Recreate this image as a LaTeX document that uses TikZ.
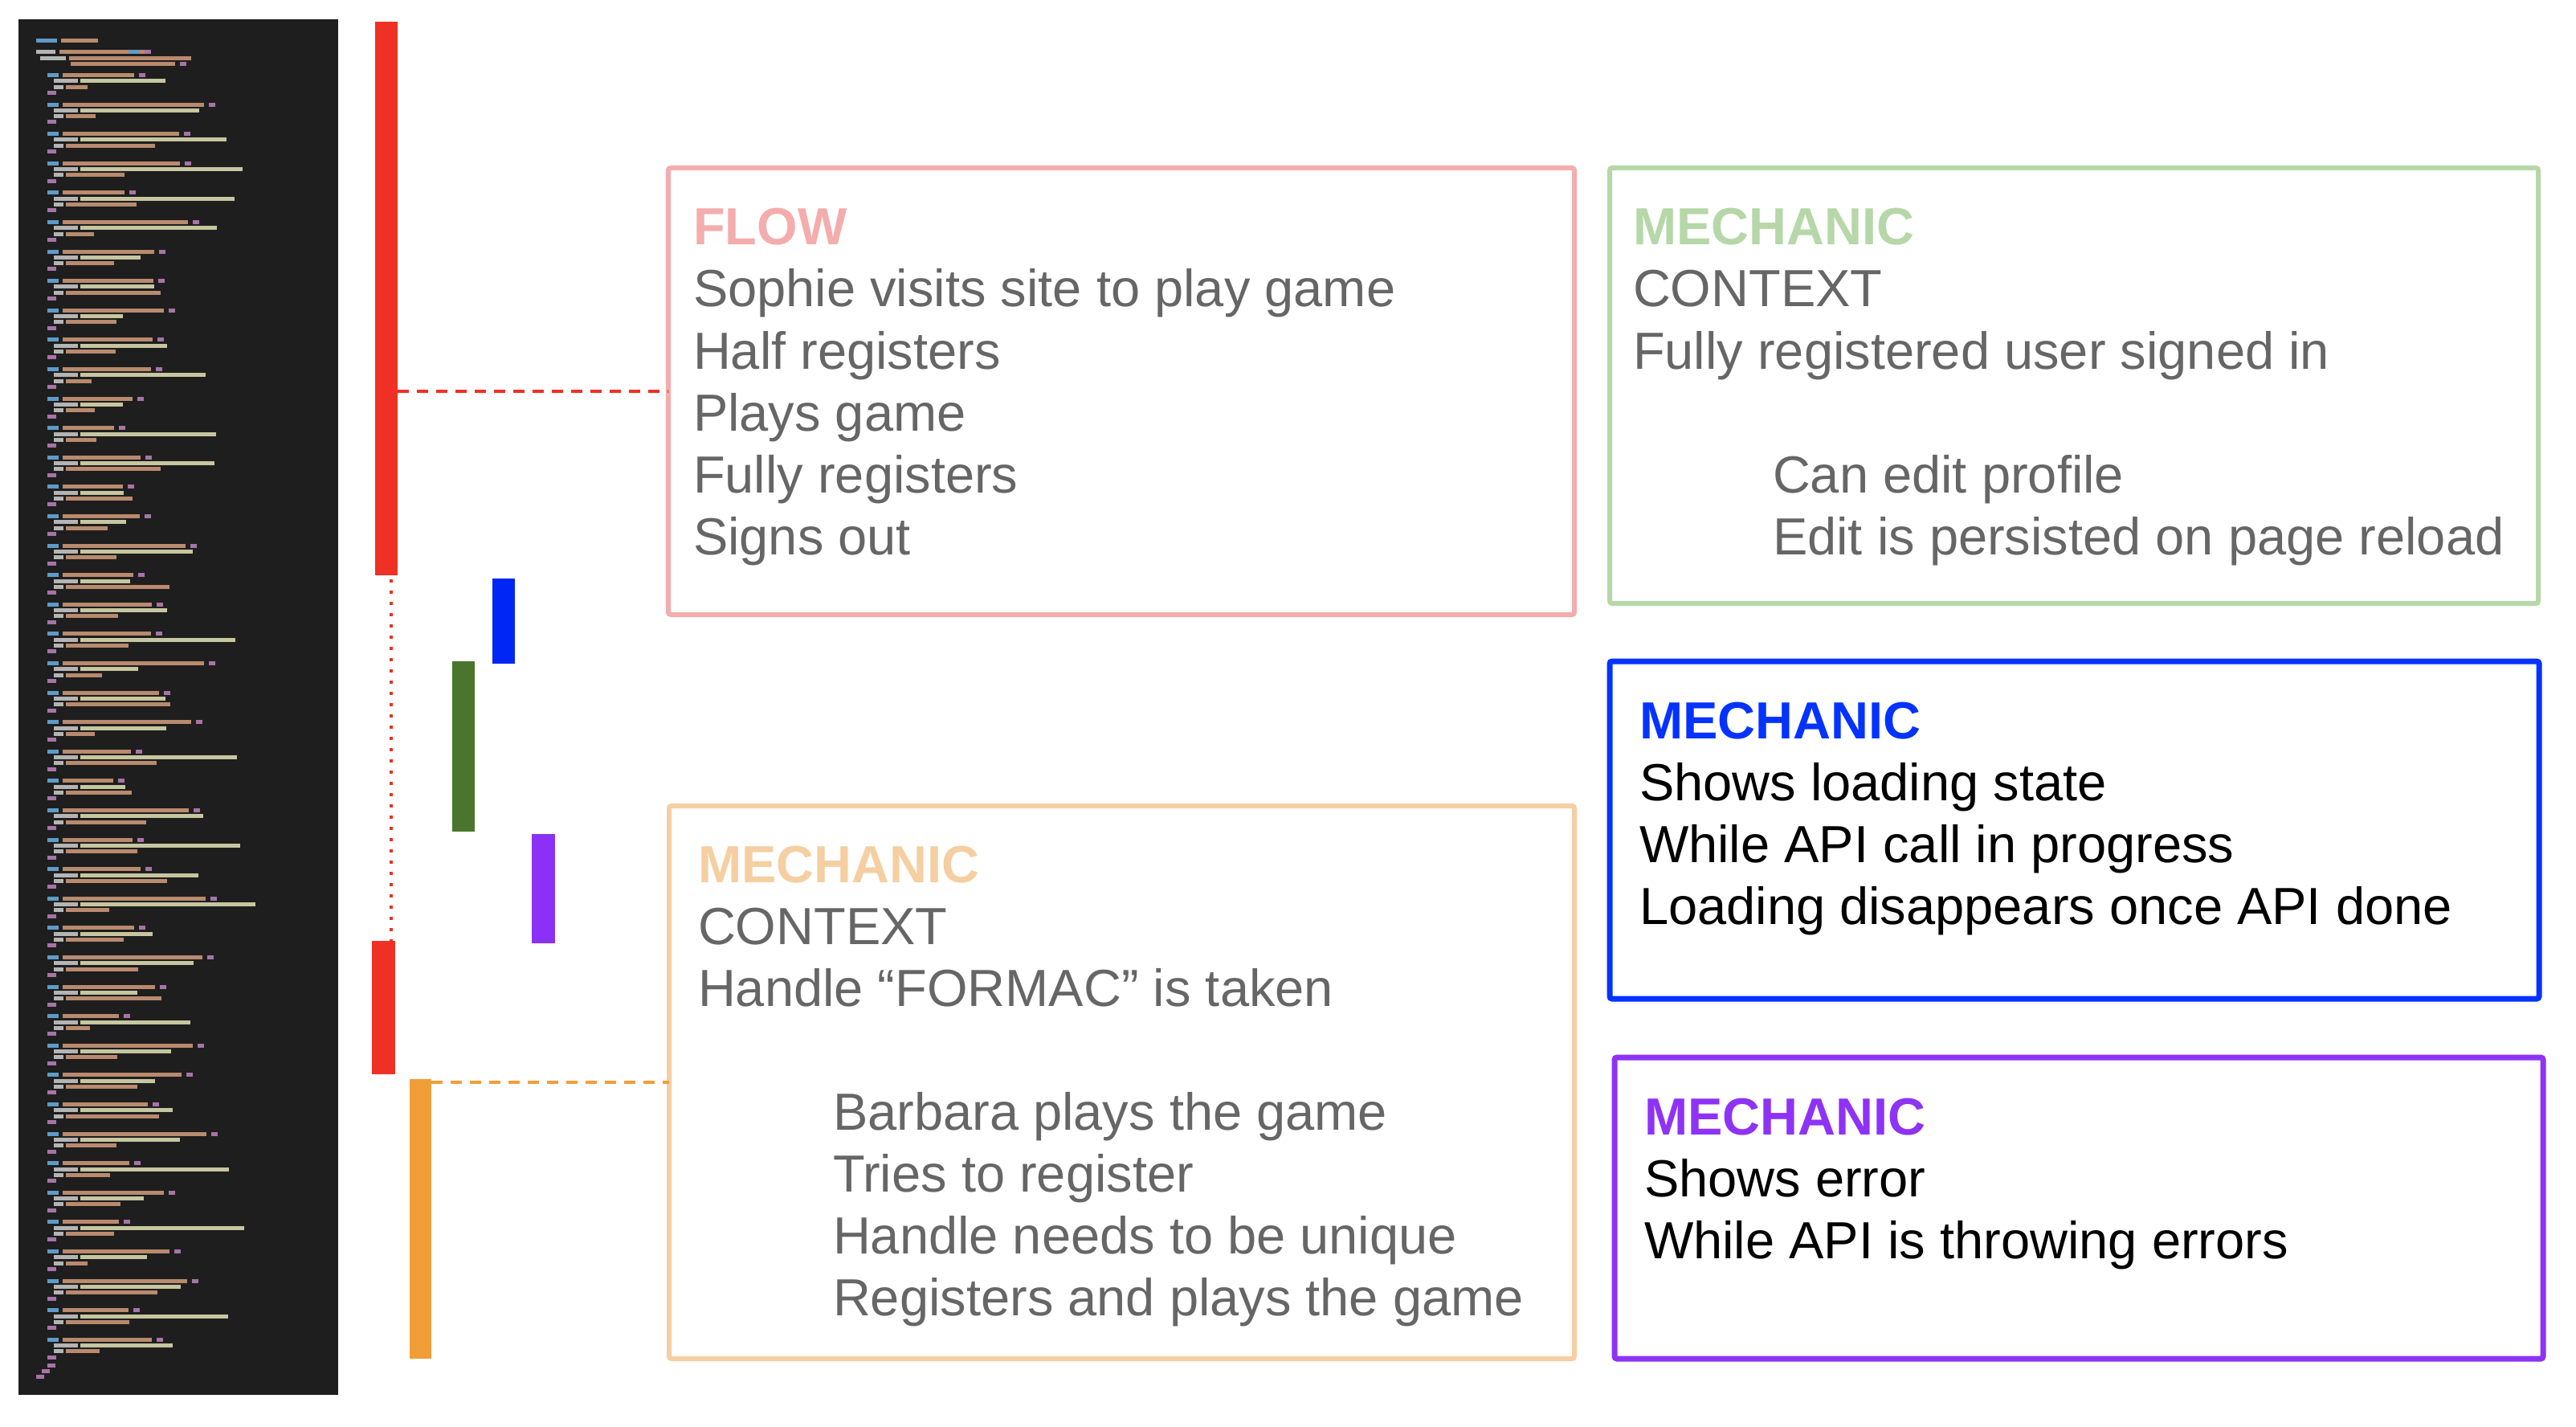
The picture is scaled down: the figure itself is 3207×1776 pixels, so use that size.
\documentclass[tikz,border=0pt]{standalone}
\usepackage{fontspec}
\setmainfont{Liberation Sans}
\usetikzlibrary{calc}
\definecolor{flowc}{HTML}{F4ACAC}
\definecolor{greenc}{HTML}{B6D7A8}
\definecolor{orangec}{HTML}{F5CFA1}
\definecolor{bluec}{HTML}{0433FF}
\definecolor{purplec}{HTML}{8E33F5}
\definecolor{textgrey}{HTML}{666666}
\definecolor{barred}{HTML}{EE3124}
\definecolor{barblue}{HTML}{0026F5}
\definecolor{bargreen}{HTML}{4A752C}
\definecolor{barpurple}{HTML}{8B31F5}
\definecolor{barorange}{HTML}{F29E38}
\definecolor{codebg}{HTML}{1E1E1E}
\definecolor{ckw}{HTML}{5E9BC8}
\definecolor{cstr}{HTML}{B98A6E}
\definecolor{cdo}{HTML}{A774A8}
\definecolor{cwh}{HTML}{B4B4B4}
\definecolor{cye}{HTML}{C6C6A0}
\tikzset{
  card/.style={draw, rectangle, rounded corners=3pt, inner sep=0pt, outer sep=0pt, anchor=north west},
  bar/.style={rectangle, inner sep=0pt, outer sep=0pt, anchor=north west, draw=none},
  ln/.style={anchor=base west, inner sep=0pt, outer sep=0pt, font=\fontsize{65}{77}\selectfont},
  hd/.style={anchor=base west, inner sep=0pt, outer sep=0pt, font=\fontsize{65}{77}\selectfont\bfseries},
  link/.style={line width=3.5pt, dash pattern=on 14pt off 10pt},
  dotlink/.style={line width=4pt, dash pattern=on 4pt off 10pt}
}
\begin{document}
\begin{tikzpicture}[x=1pt,y=-1pt]
\useasboundingbox (0,0) rectangle (3207,1776);
\fill[white] (0,0) rectangle (3207,1776);

% code screenshot panel
\node[bar, fill=codebg, minimum width=398pt, minimum height=1712pt] (code) at (23,24) {};
% header rows
\fill[ckw] (45,48) rectangle ++(26,5);
\fill[cstr] (76,48) rectangle ++(46,5);
\fill[cwh] (45,62) rectangle ++(24,5);
\fill[cstr] (74,62) rectangle ++(110,5);
\fill[ckw] (160,62) rectangle ++(14,5);
\fill[cdo] (180,62) rectangle ++(8,5);
\fill[cwh] (50,70) rectangle ++(32,5);
\fill[cstr] (86,70) rectangle ++(152,5);
\fill[cstr] (88,77) rectangle ++(130,5);
\fill[cdo] (224,77) rectangle ++(8,5);
% step blocks
\pgfmathsetseed{42}
\foreach \k in {0,...,43}{
  \pgfmathsetmacro{\yy}{91+\k*36.6}
  \pgfmathsetmacro{\la}{60+120*rnd}
  \pgfmathsetmacro{\lb}{50+170*rnd}
  \pgfmathsetmacro{\lc}{20+110*rnd}
  \fill[ckw] (59,\yy) rectangle ++(14,5);
  \fill[cstr] (78,\yy) rectangle ++(\la,5);
  \fill[cdo] ({84+\la},\yy) rectangle ++(8,5);
  \fill[cwh] (67,{\yy+7.3}) rectangle ++(30,5);
  \fill[cye] (100,{\yy+7.3}) rectangle ++(\lb,5);
  \fill[cwh] (67,{\yy+14.6}) rectangle ++(12,5);
  \fill[cstr] (82,{\yy+14.6}) rectangle ++(\lc,5);
  \fill[cdo] (59,{\yy+21.9}) rectangle ++(11,5);
}
\fill[cdo] (59,1697) rectangle ++(10,5);
\fill[cdo] (52,1704) rectangle ++(10,5);
\fill[cdo] (45,1711) rectangle ++(10,5);

% coloured bars
\node[bar, fill=barred, minimum width=28pt, minimum height=689pt] (redA) at (467,27) {};
\node[bar, fill=barred, minimum width=29pt, minimum height=166pt] (redB) at (463,1171) {};
\node[bar, fill=barblue, minimum width=28pt, minimum height=106pt] (blueb) at (613,720) {};
\node[bar, fill=bargreen, minimum width=28pt, minimum height=212pt] (greenb) at (563,823) {};
\node[bar, fill=barpurple, minimum width=29pt, minimum height=136pt] (purpleb) at (662,1038) {};
\node[bar, fill=barorange, minimum width=27pt, minimum height=348pt] (orangeb) at (510,1343) {};

% cards
\node[card, draw=flowc, line width=6pt, minimum width=1128pt, minimum height=556pt] (flow) at (832,209) {};
\node[card, draw=greenc, line width=6pt, minimum width=1156pt, minimum height=542pt] (ctxg) at (2004,209) {};
\node[card, draw=bluec, line width=7pt, minimum width=1157pt, minimum height=420pt] (mblue) at (2004,823) {};
\node[card, draw=purplec, line width=7pt, minimum width=1156pt, minimum height=375pt] (mpurple) at (2010,1316) {};
\node[card, draw=orangec, line width=6pt, minimum width=1127pt, minimum height=688pt] (ctxo) at (833,1003) {};

% connectors
\draw[barred, link] (redA.east |- flow.west) -- (flow.west);
\draw[barorange, link] (orangeb.north east |- ctxo.west) -- (ctxo.west);
\draw[barred, dotlink] ($(redA.south)+(6,5)$) -- ($(redA.south |- redB.north)+(6,0)$);

% FLOW text
\node[hd, text=flowc] (f0) at (863,305) {FLOW};
\node[ln, text=textgrey] (f1) at (863,382) {Sophie visits site to play game};
\node[ln, text=textgrey] (f2) at (863,459) {Half registers};
\node[ln, text=textgrey] (f3) at (863,536) {Plays game};
\node[ln, text=textgrey] (f4) at (863,613) {Fully registers};
\node[ln, text=textgrey] (f5) at (863,690) {Signs out};

% green mechanic text
\node[hd, text=greenc] (g0) at (2033,305) {MECHANIC};
\node[ln, text=textgrey] (g1) at (2033,382) {CONTEXT};
\node[ln, text=textgrey] (g2) at (2033,459) {Fully registered user signed in};
\node[ln, text=textgrey] (g3) at (2207,613) {Can edit profile};
\node[ln, text=textgrey] (g4) at (2207,690) {Edit is persisted on page reload};

% blue mechanic text
\node[hd, text=bluec] (b0) at (2041,919) {MECHANIC};
\node[ln, text=black] (b1) at (2041,996) {Shows loading state};
\node[ln, text=black] (b2) at (2041,1073) {While API call in progress};
\node[ln, text=black] (b3) at (2041,1150) {Loading disappears once API done};

% purple mechanic text
\node[hd, text=purplec] (p0) at (2047,1412) {MECHANIC};
\node[ln, text=black] (p1) at (2047,1489) {Shows error};
\node[ln, text=black] (p2) at (2047,1566) {While API is throwing errors};

% orange mechanic text
\node[hd, text=orangec] (o0) at (869,1098) {MECHANIC};
\node[ln, text=textgrey] (o1) at (869,1175) {CONTEXT};
\node[ln, text=textgrey] (o2) at (869,1252) {Handle “FORMAC” is taken};
\node[ln, text=textgrey] (o3) at (1037,1406) {Barbara plays the game};
\node[ln, text=textgrey] (o4) at (1037,1483) {Tries to register};
\node[ln, text=textgrey] (o5) at (1037,1560) {Handle needs to be unique};
\node[ln, text=textgrey] (o6) at (1037,1637) {Registers and plays the game};
\end{tikzpicture}
\end{document}
